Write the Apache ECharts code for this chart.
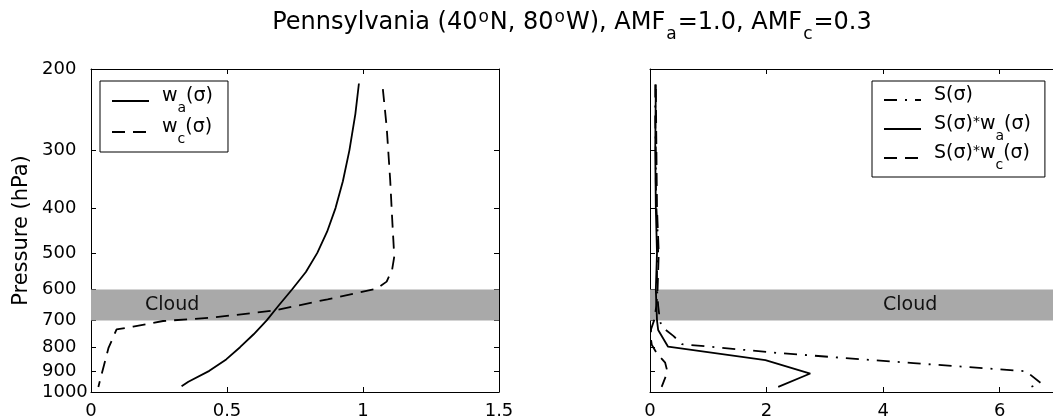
<!DOCTYPE html>
<html>
<head>
<meta charset="utf-8">
<script src="https://cdn.jsdelivr.net/npm/echarts@6/dist/echarts.min.js"></script>
<style>
  html, body { margin: 0; padding: 0; background: #fff; }
  #chart { width: 1053px; height: 418px; }
</style>
</head>
<body>
<div id="chart"></div>
<script>
const FONT = 'DejaVu Sans';

// Axis ticks
const pressureTicks = [200, 300, 400, 500, 600, 700, 800, 900, 1000];
const weightTicks = [0, 0.5, 1, 1.5];
const shapeTicks = [0, 2, 4, 6];

// Cloud layer (hPa)
const cloudTop = 600;
const cloudBase = 700;

// Scattering weights w_a(σ) and w_c(σ)
const waPressure = [215, 250, 300, 350, 400, 450, 500, 550, 600, 650, 700, 750, 800, 850, 900, 950, 972];
const waValue = [0.985, 0.972, 0.950, 0.926, 0.899, 0.868, 0.832, 0.790, 0.739, 0.690, 0.646, 0.598, 0.548, 0.497, 0.435, 0.358, 0.333];

const wcPressure = [221, 267, 348, 430, 509, 544, 577, 598, 630, 666, 690, 702, 722, 732, 804, 975];
const wcValue = [1.073, 1.087, 1.100, 1.108, 1.115, 1.107, 1.087, 1.050, 0.870, 0.675, 0.449, 0.265, 0.155, 0.094, 0.064, 0.027];

// Shape factor S(σ)
const sPressure = [216, 260, 300, 350, 400, 450, 500, 550, 600, 650, 700, 722, 756, 788, 824, 866, 902, 955, 975];
const sValue = [0.09, 0.09, 0.10, 0.10, 0.11, 0.13, 0.14, 0.12, 0.12, 0.14, 0.17, 0.20, 0.40, 0.55, 2.23, 4.52, 6.45, 6.70, 6.54];

// S(σ)*w_a(σ)
const swaPressure = [216, 300, 400, 500, 600, 650, 700, 734, 798, 853, 912, 975];
const swaValue = [0.10, 0.09, 0.10, 0.12, 0.10, 0.11, 0.12, 0.14, 0.31, 1.98, 2.75, 2.20];

// S(σ)*w_c(σ)
const swcPressure = [221, 300, 400, 500, 600, 650, 700, 730, 760, 790, 824, 864, 905, 975];
const swcValue = [0.10, 0.11, 0.12, 0.15, 0.13, 0.11, 0.07, 0.02, 0.01, 0.03, 0.115, 0.26, 0.30, 0.20];

const pairs = (vals, pres) => vals.map((v, i) => [v, pres[i]]);

const DASH = [13, 8];
const DASH_DOT = [13, 8, 2, 8];

// Legend rich text: main glyphs hang from the top of a 28px line, subscripts sit at its bottom
const LEG_LH = 28;
const legendRich = {
  f: { fontSize: 19, fontFamily: FONT, color: '#000', lineHeight: LEG_LH, verticalAlign: 'top', padding: [0, 0, 0, 8] },
  m: { fontSize: 19, fontFamily: FONT, color: '#000', lineHeight: LEG_LH, verticalAlign: 'top' },
  s: { fontSize: 14, fontFamily: FONT, color: '#000', lineHeight: LEG_LH, verticalAlign: 'bottom' },
  p: { fontSize: 14, fontFamily: FONT, color: '#000', lineHeight: LEG_LH, verticalAlign: 'top' }
};

const legendText = {
  wa: '{f|w}{s|a}{m|(σ)}',
  wc: '{f|w}{s|c}{m|(σ)}',
  S: '{f|S(σ)}{s| }',
  Swa: '{f|S(σ)}{p|*}{m|w}{s|a}{m|(σ)}',
  Swc: '{f|S(σ)}{p|*}{m|w}{s|c}{m|(σ)}'
};

function xAxis(gridIndex, position, max, ticks, withLabels) {
  return {
    type: 'value', gridIndex, position, min: 0, max,
    axisLine: { show: true, onZero: false, lineStyle: { color: '#000', width: 1 } },
    axisTick: { show: true, inside: true, length: 5, customValues: ticks, lineStyle: { color: '#000' } },
    axisLabel: { show: withLabels, customValues: ticks, fontSize: 18, fontFamily: FONT, color: '#000', margin: 10 },
    splitLine: { show: false }
  };
}

function yAxis(gridIndex, position, withLabels) {
  return {
    type: 'log', logBase: 10, gridIndex, position, min: 200, max: 1000, inverse: true,
    name: withLabels ? 'Pressure (hPa)' : '',
    nameLocation: 'middle', nameGap: 59,
    nameTextStyle: { fontSize: 21, fontFamily: FONT, color: '#000' },
    axisLine: { show: true, onZero: false, lineStyle: { color: '#000', width: 1 } },
    axisTick: { show: true, inside: true, length: 5, customValues: pressureTicks, lineStyle: { color: '#000' } },
    axisLabel: { show: withLabels, customValues: pressureTicks, align: 'left', margin: 49,
                 fontSize: 18, fontFamily: FONT, color: '#000',
                 formatter: (v) => String(Math.round(v)) },
    splitLine: { show: false },
    minorTick: { show: false }
  };
}

function cloudBand(labelX) {
  return {
    silent: true,
    itemStyle: { color: '#a9a9a9' },
    label: { show: true, position: [labelX, '50%'], align: 'left', verticalAlign: 'middle',
             fontSize: 19, fontFamily: FONT, color: '#111', formatter: 'Cloud' },
    data: [[{ yAxis: cloudTop }, { yAxis: cloudBase }]]
  };
}

const lineSeries = (name, data, xi, yi, type, extra) => Object.assign({
  name, type: 'line', data, xAxisIndex: xi, yAxisIndex: yi,
  symbol: 'none', showSymbol: false, smooth: false,
  lineStyle: { color: '#000', width: 1.8, type },
  itemStyle: { color: '#000' }
}, extra || {});

const legendBase = {
  orient: 'vertical', itemWidth: 37, itemHeight: 14,
  borderColor: '#000', borderWidth: 1, borderRadius: 0, backgroundColor: '#fff',
  selectedMode: false,
  itemStyle: { opacity: 0 },
  textStyle: { fontSize: 19, fontFamily: FONT, color: '#000', rich: legendRich },
  formatter: (n) => legendText[n]
};

const chart = echarts.init(document.getElementById('chart'), null, { renderer: 'canvas' });

chart.setOption({
  animation: false,
  backgroundColor: '#fff',
  grid: [
    { left: 91, top: 69, width: 408, height: 323, outerBoundsMode: 'none', containLabel: false },
    { left: 650, top: 69, width: 408, height: 323, outerBoundsMode: 'none', containLabel: false }
  ],
  xAxis: [
    xAxis(0, 'bottom', 1.5, weightTicks, true),
    xAxis(0, 'top', 1.5, weightTicks, false),
    xAxis(1, 'bottom', 7, shapeTicks, true),
    xAxis(1, 'top', 7, shapeTicks, false)
  ],
  yAxis: [
    yAxis(0, 'left', true),
    yAxis(0, 'right', false),
    yAxis(1, 'left', false),
    yAxis(1, 'right', false)
  ],
  legend: [
    Object.assign({}, legendBase, { left: 100, top: 81, itemGap: 3, padding: [6, 15, 6, 11], data: ['wa', 'wc'] }),
    Object.assign({}, legendBase, { left: 872, top: 81, itemGap: 1, padding: [5, 14, 5, 11], data: ['S', 'Swa', 'Swc'] })
  ],
  graphic: [{
    type: 'text', x: 572, y: 26, silent: true,
    style: {
      text: '{m|Pennsylvania (40}{p|o}{m|N, 80}{p|o}{m|W), AMF}{b|a}{m|=1.0, AMF}{b|c}{m|=0.3}',
      align: 'center', verticalAlign: 'middle', fill: '#000',
      fontSize: 24, fontFamily: FONT,
      rich: {
        m: { fontSize: 24, fontFamily: FONT, fill: '#000', lineHeight: 34, verticalAlign: 'top', padding: [2, 0, 0, 0] },
        p: { fontSize: 17, fontFamily: FONT, fill: '#000', lineHeight: 34, verticalAlign: 'top', padding: [0, 1, 0, 1] },
        b: { fontSize: 17, fontFamily: FONT, fill: '#000', lineHeight: 34, verticalAlign: 'bottom', padding: [0, 1, 0, 1] }
      }
    }
  }],
  series: [
    lineSeries('wa', pairs(waValue, waPressure), 0, 0, 'solid', { markArea: cloudBand(54), z: 3 }),
    lineSeries('wc', pairs(wcValue, wcPressure), 0, 0, DASH, { z: 3 }),
    lineSeries('S', pairs(sValue, sPressure), 2, 2, DASH_DOT, { markArea: cloudBand(233), z: 3 }),
    lineSeries('Swa', pairs(swaValue, swaPressure), 2, 2, 'solid', { z: 3 }),
    lineSeries('Swc', pairs(swcValue, swcPressure), 2, 2, DASH, { z: 3 })
  ]
});
</script>
</body>
</html>
